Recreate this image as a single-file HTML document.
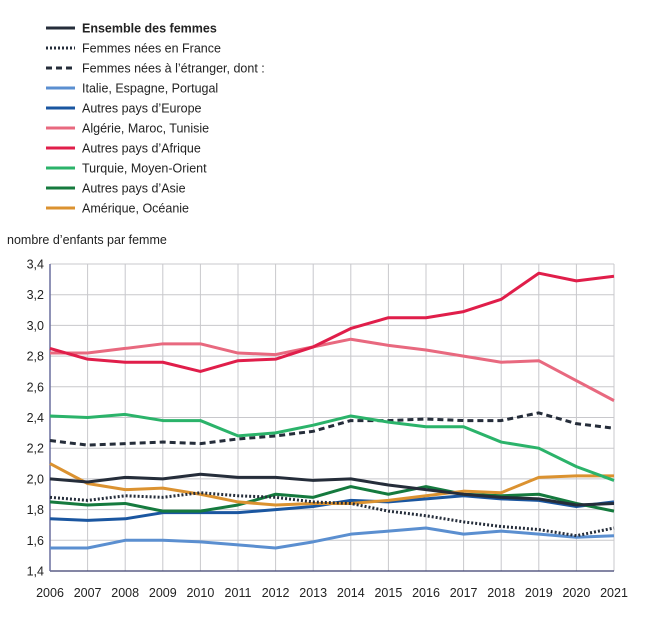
<!DOCTYPE html>
<html><head><meta charset="utf-8"><style>
body{margin:0;background:#fff;font-family:"Liberation Sans","DejaVu Sans",sans-serif;}
svg text{font-family:"Liberation Sans","DejaVu Sans",sans-serif;fill:#222;}
</style></head><body>
<svg id="chart" width="656" height="621" xmlns="http://www.w3.org/2000/svg"></svg>
<script>
const years=[2006,2007,2008,2009,2010,2011,2012,2013,2014,2015,2016,2017,2018,2019,2020,2021];
const yTicks=[1.4,1.6,1.8,2.0,2.2,2.4,2.6,2.8,3.0,3.2,3.4];
const ensemble=[2.00,1.98,2.01,2.00,2.03,2.01,2.01,1.99,2.00,1.96,1.93,1.90,1.88,1.87,1.83,1.84];
const france=[1.88,1.86,1.89,1.88,1.91,1.89,1.88,1.85,1.84,1.79,1.76,1.72,1.69,1.67,1.63,1.68];
const etranger=[2.25,2.22,2.23,2.24,2.23,2.26,2.28,2.31,2.38,2.38,2.39,2.38,2.38,2.43,2.36,2.33];
const italie=[1.55,1.55,1.60,1.60,1.59,1.57,1.55,1.59,1.64,1.66,1.68,1.64,1.66,1.64,1.62,1.63];
const europe=[1.74,1.73,1.74,1.78,1.78,1.78,1.80,1.82,1.86,1.85,1.87,1.89,1.87,1.86,1.82,1.85];
const maghreb=[2.82,2.82,2.85,2.88,2.88,2.82,2.81,2.86,2.91,2.87,2.84,2.80,2.76,2.77,2.64,2.51];
const afrique=[2.85,2.78,2.76,2.76,2.70,2.77,2.78,2.86,2.98,3.05,3.05,3.09,3.17,3.34,3.29,3.32];
const turquie=[2.41,2.40,2.42,2.38,2.38,2.28,2.30,2.35,2.41,2.37,2.34,2.34,2.24,2.20,2.08,1.99];
const asie=[1.85,1.83,1.84,1.79,1.79,1.83,1.90,1.88,1.95,1.90,1.95,1.90,1.89,1.90,1.84,1.79];
const amerique=[2.10,1.97,1.93,1.94,1.90,1.85,1.83,1.84,1.84,1.86,1.89,1.92,1.91,2.01,2.02,2.02];

const series=[
 {label:"Ensemble des femmes",v:ensemble,c:"#252d3a",d:"",bold:true,name:"series-ensemble"},
 {label:"Femmes nées en France",v:france,c:"#252d3a",d:"2 2",name:"series-france"},
 {label:"Femmes nées à l’étranger, dont :",v:etranger,c:"#252d3a",d:"6 4",name:"series-etranger"},
 {label:"Italie, Espagne, Portugal",v:italie,c:"#5b8fd0",d:"",name:"series-italie"},
 {label:"Autres pays d’Europe",v:europe,c:"#1a56a0",d:"",name:"series-europe"},
 {label:"Algérie, Maroc, Tunisie",v:maghreb,c:"#e8697f",d:"",name:"series-maghreb"},
 {label:"Autres pays d’Afrique",v:afrique,c:"#e01e4a",d:"",name:"series-afrique"},
 {label:"Turquie, Moyen-Orient",v:turquie,c:"#2bb36a",d:"",name:"series-turquie"},
 {label:"Autres pays d’Asie",v:asie,c:"#157a3e",d:"",name:"series-asie"},
 {label:"Amérique, Océanie",v:amerique,c:"#db9230",d:"",name:"series-amerique"}
];
const drawOrder=[3,4,8,9,1,0,2,7,5,6];

const svg=document.getElementById('chart');
const NS="http://www.w3.org/2000/svg";
const X0=50,X1=614,Y0=571,Y1=264;
const xs=y=>X0+(y-years[0])/(years[years.length-1]-years[0])*(X1-X0);
const ys=v=>Y0-(v-1.4)/(3.4-1.4)*(Y0-Y1);
function mk(t,a,p){const e=document.createElementNS(NS,t);for(const k in a)e.setAttribute(k,a[k]);(p||svg).appendChild(e);return e;}

// legend
series.forEach((s,i)=>{
 const g=mk('g',{});
 
 
 const y=28+i*20;
 mk('line',{x1:46,x2:75,y1:y,y2:y,stroke:s.c,'stroke-width':3,'stroke-dasharray':s.d},g);
 const t=mk('text',{x:82,y:y+4.5,'font-size':12.5,'font-weight':s.bold?'bold':'normal'},g);
 t.textContent=s.label;
});
const yt=mk('text',{x:7,y:244,'font-size':12.5});


yt.textContent="nombre d’enfants par femme";

// grid
yTicks.forEach(v=>{
 const l=mk('line',{x1:X0,x2:X1,y1:ys(v),y2:ys(v),stroke:'#c8c8cc','stroke-width':1});
 
 
 const t=mk('text',{x:44,y:ys(v)+4.5,'font-size':12.5,'text-anchor':'end'});
 
 
 t.textContent=v.toFixed(1).replace('.',',');
});
years.forEach(yr=>{
 const l=mk('line',{x1:xs(yr),x2:xs(yr),y1:Y1,y2:Y0,stroke:'#c8c8cc','stroke-width':1});
 
 
 const t=mk('text',{x:xs(yr),y:597,'font-size':12.5,'text-anchor':'middle'});
 
 
 t.textContent=yr;
});
const ax=mk('line',{x1:X0,x2:X1,y1:Y0,y2:Y0,stroke:'#3a3f6e','stroke-width':1.2});


const ay=mk('line',{x1:X0,x2:X0,y1:Y1,y2:Y0,stroke:'#6a6f9e','stroke-width':1.5});



drawOrder.forEach(i=>{
 const s=series[i];
 const p=mk('polyline',{points:s.v.map((v,j)=>xs(years[j])+','+ys(v)).join(' '),fill:'none',stroke:s.c,'stroke-width':3,'stroke-dasharray':s.d,'stroke-linejoin':'round'});
 
 
});
</script>
</body></html>
